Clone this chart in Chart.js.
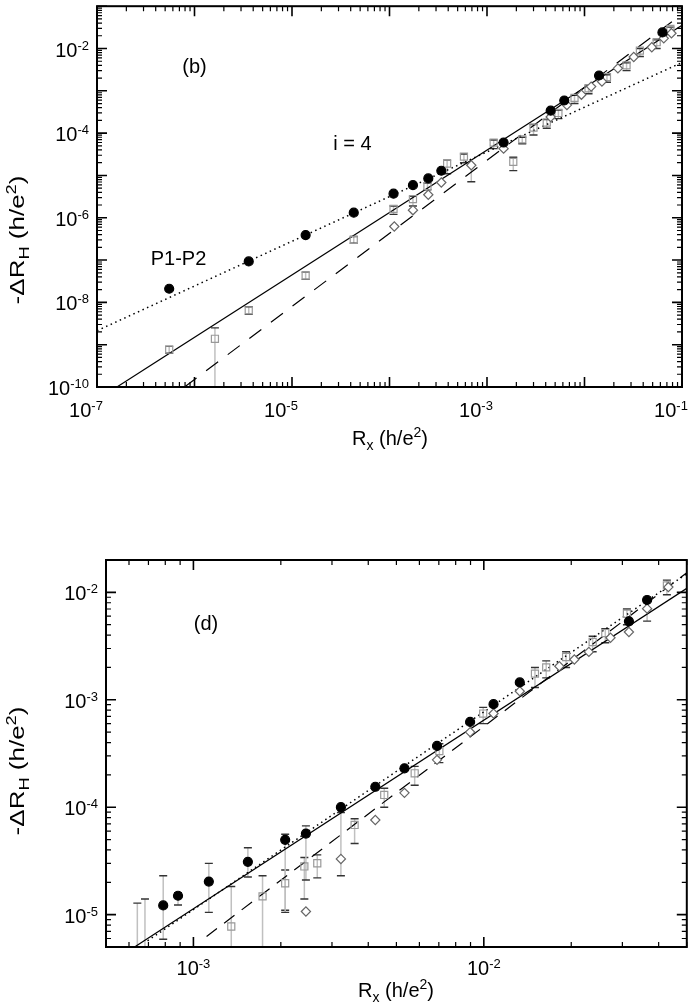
<!DOCTYPE html>
<html>
<head>
<meta charset="utf-8">
<title>-dRH vs Rx</title>
<script src="https://cdn.jsdelivr.net/npm/chart.js@4.4.1/dist/chart.umd.min.js"></script>
<style>
  html, body { margin: 0; padding: 0; background: #fff; }
  .panel { position: absolute; left: 0; width: 693px; }
  #panelB { top: 0; height: 460px; }
  #panelD { top: 460px; height: 547px; }
</style>
</head>
<body>
<div class="panel" id="panelB"><canvas id="chartB"></canvas></div>
<div class="panel" id="panelD"><canvas id="chartD"></canvas></div>
<script>
// ---------- panel (b) data ----------
const bCircX = [5.5e-7, 3.6e-6, 1.38e-5, 4.3e-5, 1.10e-4, 1.74e-4, 2.5e-4, 3.4e-4, 1.48e-3, 4.5e-3, 6.2e-3, 1.41e-2, 6.3e-2];
const bCircY = [2.1e-8, 9.3e-8, 3.9e-7, 1.32e-6, 3.7e-6, 5.9e-6, 8.5e-6, 1.29e-5, 6.0e-5, 3.4e-4, 5.9e-4, 2.3e-3, 2.4e-2];

const bDiamX = [1.12e-4, 1.74e-4, 2.5e-4, 3.4e-4, 6.9e-4, 1.48e-3, 4.5e-3, 6.6e-3, 9.3e-3, 1.17e-2, 1.51e-2, 2.2e-2, 3.2e-2, 4.9e-2, 6.5e-2, 7.8e-2];
const bDiamY = [6.2e-7, 1.51e-6, 3.5e-6, 6.8e-6, 1.74e-5, 4.3e-5, 2.4e-4, 4.6e-4, 8.1e-4, 1.26e-3, 1.66e-3, 3.4e-3, 6.3e-3, 1.07e-2, 1.74e-2, 2.3e-2];
const bDiamLo = [null, null, null, null, 7.1e-6, null, null, null, null, null, null, null, null, null, null, null];
const bDiamHi = [null, null, null, null, 1.74e-5, null, null, null, null, null, null, null, null, null, null, null];

const bSqX = [5.5e-7, 1.62e-6, 3.6e-6, 1.38e-5, 4.3e-5, 1.10e-4, 1.74e-4, 2.45e-4, 3.9e-4, 5.8e-4, 1.17e-3, 1.86e-3, 2.3e-3, 3.0e-3, 4.1e-3, 5.4e-3, 7.9e-3, 1.10e-2, 1.70e-2, 2.7e-2, 3.7e-2, 5.5e-2, 7.6e-2];
const bSqY = [7.6e-10, 1.38e-9, 6.5e-9, 4.3e-8, 3.0e-7, 1.62e-6, 2.75e-6, 5.6e-6, 1.9e-5, 2.8e-5, 6.0e-5, 2.1e-5, 7.1e-5, 1.35e-4, 1.78e-4, 3.0e-4, 6.8e-4, 1.15e-3, 2.1e-3, 4.0e-3, 8.9e-3, 1.41e-2, 2.9e-2];
const bSqLo = [6.3e-10, 1e-11, 5.2e-9, 3.5e-8, 2.5e-7, 1.2e-6, 1.9e-6, 4.6e-6, 1.1e-5, 2.0e-5, 4.3e-5, 1.3e-5, 5.6e-5, 9e-5, 1.3e-4, 2.2e-4, 5.0e-4, 8.5e-4, 1.6e-3, 3.0e-3, 6.5e-3, 1.0e-2, 2.2e-2];
const bSqHi = [9.1e-10, 2.5e-9, 7.9e-9, 5.2e-8, 3.6e-7, 1.9e-6, 3.2e-6, 6.6e-6, 2.3e-5, 3.2e-5, 6.9e-5, 2.7e-5, 8.0e-5, 1.6e-4, 2.1e-4, 3.5e-4, 7.8e-4, 1.3e-3, 2.4e-3, 4.6e-3, 1.0e-2, 1.6e-2, 3.2e-2];

// fitted lines (end points)
const bDotX = [1e-7, 1e-1],     bDotY = [2.14e-9, 4.68e-3];
const bSolidX = [1.60e-7, 1e-1], bSolidY = [1e-10, 3.55e-2];
const bDashX = [7.9e-7, 1e-1],  bDashY = [1e-10, 6.46e-2];

const bXLabels = [-7, -5, -3, -1];
const bYLabels = [-10, -8, -6, -4, -2];

// ---------- panel (d) data ----------
const dCircX = [7.87e-4, 8.85e-4, 1.13e-3, 1.54e-3, 2.07e-3, 2.44e-3, 3.22e-3, 4.23e-3, 5.33e-3, 6.90e-3, 8.97e-3, 1.08e-2, 1.33e-2, 3.16e-2, 3.65e-2];
const dCircY = [1.22e-5, 1.50e-5, 2.03e-5, 3.10e-5, 4.97e-5, 5.68e-5, 1.00e-4, 1.55e-4, 2.30e-4, 3.72e-4, 6.22e-4, 9.10e-4, 1.45e-3, 5.37e-3, 8.49e-3];
const dCircLo = [5.9e-6, 1.23e-5, 1.05e-5, 2.24e-5, 1.05e-5, 2.1e-5, null, null, null, null, null, null, null, null, null];
const dCircHi = [2.3e-5, 1.6e-5, 3.0e-5, 4.2e-5, 5.6e-5, 6.7e-5, null, null, null, null, null, null, null, null, null];

const dDiamX = [2.44e-3, 3.22e-3, 4.23e-3, 5.33e-3, 6.90e-3, 8.97e-3, 1.08e-2, 1.33e-2, 1.82e-2, 2.05e-2, 2.30e-2, 2.73e-2, 3.16e-2, 3.65e-2, 4.32e-2];
const dDiamY = [1.07e-5, 3.30e-5, 7.60e-5, 1.36e-4, 2.76e-4, 5.00e-4, 7.45e-4, 1.20e-3, 2.05e-3, 2.37e-3, 2.79e-3, 3.78e-3, 4.27e-3, 7.05e-3, 1.12e-2];
const dDiamLo = [null, 2.3e-5, null, null, null, null, null, null, null, null, null, null, null, 5.4e-3, null];
const dDiamHi = [null, 8.9e-5, null, null, null, null, null, null, null, null, null, null, null, 8.5e-3, null];

const dSqX = [6.41e-4, 6.81e-4, 1.35e-3, 1.73e-3, 2.07e-3, 2.41e-3, 2.67e-3, 3.59e-3, 4.54e-3, 5.78e-3, 7.03e-3, 9.95e-3, 1.50e-2, 1.64e-2, 1.92e-2, 2.37e-2, 2.62e-2, 3.11e-2, 4.27e-2];
const dSqY = [3e-6, 3e-6, 7.76e-6, 1.48e-5, 1.96e-5, 2.81e-5, 3.01e-5, 6.84e-5, 1.30e-4, 2.07e-4, 3.33e-4, 7.45e-4, 1.75e-3, 2.00e-3, 2.50e-3, 3.45e-3, 4.18e-3, 6.32e-3, 1.16e-2];
const dSqLo = [2e-6, 2e-6, 4e-6, 4e-6, 1.1e-5, 1.4e-5, 2.2e-5, 4.6e-5, 1.0e-4, 1.6e-4, 2.6e-4, 6.0e-4, 1.3e-3, 1.6e-3, 2.0e-3, 2.8e-3, 3.4e-3, 5.0e-3, 9.5e-3];
const dSqHi = [1.28e-5, 1.40e-5, 1.83e-5, 2.3e-5, 2.6e-5, 3.4e-5, 3.6e-5, 7.8e-5, 1.5e-4, 2.4e-4, 3.9e-4, 8.5e-4, 2.0e-3, 2.3e-3, 2.8e-3, 3.9e-3, 4.6e-3, 7.0e-3, 1.3e-2];

const dDotX = [6.95e-4, 5e-2],   dDotY = [5.71e-6, 1.49e-2];
const dSolidX = [6.27e-4, 5e-2], dSolidY = [5.0e-6, 1.09e-2];
const dDashX = [1.11e-3, 5e-2],  dDashY = [6.27e-6, 1.52e-2];

const dXLabels = [-3, -2];
const dYLabels = [-5, -4, -3, -2];

// ---------- helpers ----------
const FONT = '"Liberation Sans", Arial, Helvetica, sans-serif';

function pts(xs, ys) {
    return xs.map((x, i) => ({ x: x, y: ys[i] }));
}

function markerSet(xs, ys, style, radius, fill, stroke, order) {
    return {
        data: pts(xs, ys),
        pointStyle: style,
        pointRadius: radius,
        pointBackgroundColor: fill,
        pointBorderColor: stroke,
        pointBorderWidth: 1.2,
        showLine: false,
        order: order
    };
}

function lineSet(xs, ys, dash, width, order) {
    return {
        data: pts(xs, ys),
        showLine: true,
        borderColor: '#000',
        borderWidth: width,
        borderDash: dash,
        pointRadius: 0,
        fill: false,
        order: order
    };
}

// text made of runs with sub/superscripts
function drawRuns(ctx, runs, x, y, align) {
    let w = 0;
    runs.forEach(r => { ctx.font = r.s + 'px ' + FONT; r.w = ctx.measureText(r.t).width; w += r.w; });
    let cx = align === 'center' ? x - w / 2 : (align === 'right' ? x - w : x);
    ctx.textAlign = 'left';
    ctx.textBaseline = 'alphabetic';
    runs.forEach(r => {
        ctx.font = r.s + 'px ' + FONT;
        ctx.fillText(r.t, cx, y + (r.dy || 0));
        cx += r.w;
    });
}

function powRuns(e) {
    return [{ t: '10', s: 20 }, { t: String(e), s: 13, dy: -7 }];
}

function drawTicks(ctx, sc, area, isX) {
    const d0 = Math.floor(Math.log10(sc.min) + 1e-9);
    const d1 = Math.ceil(Math.log10(sc.max) - 1e-9);
    ctx.strokeStyle = '#000';
    for (let d = d0; d <= d1; d++) {
        for (let m = 1; m <= 9; m++) {
            const v = m * Math.pow(10, d);
            if (v < sc.min * 0.9999 || v > sc.max * 1.0001) continue;
            const p = sc.getPixelForValue(v);
            const len = m === 1 ? 10 : 5;
            ctx.lineWidth = m === 1 ? 1.6 : 1.2;
            ctx.beginPath();
            if (isX) {
                ctx.moveTo(p, area.bottom); ctx.lineTo(p, area.bottom - len);
                ctx.moveTo(p, area.top); ctx.lineTo(p, area.top + len);
            } else {
                ctx.moveTo(area.left, p); ctx.lineTo(area.left + len, p);
                ctx.moveTo(area.right, p); ctx.lineTo(area.right - len, p);
            }
            ctx.stroke();
        }
    }
}

function makeDecor(cfg) {
    return {
        id: 'decor',
        beforeDatasetsDraw(chart) {
            const ctx = chart.ctx, xs = chart.scales.x, ys = chart.scales.y, a = chart.chartArea;
            ctx.save();
            ctx.beginPath();
            ctx.rect(a.left, a.top, a.right - a.left, a.bottom - a.top);
            ctx.clip();
            cfg.errors.forEach(e => {
                e.x.forEach((xv, i) => {
                    if (e.lo[i] == null) return;
                    const px = xs.getPixelForValue(xv);
                    const pLo = ys.getPixelForValue(e.lo[i]);
                    const pHi = ys.getPixelForValue(e.hi[i]);
                    ctx.strokeStyle = '#c0c0c0';
                    ctx.lineWidth = 1.5;
                    ctx.beginPath(); ctx.moveTo(px, pLo); ctx.lineTo(px, pHi); ctx.stroke();
                    ctx.strokeStyle = '#333';
                    ctx.lineWidth = 1.4;
                    ctx.beginPath();
                    ctx.moveTo(px - 4, pHi); ctx.lineTo(px + 4, pHi);
                    ctx.moveTo(px - 4, pLo); ctx.lineTo(px + 4, pLo);
                    ctx.stroke();
                });
            });
            ctx.restore();
        },
        afterDraw(chart) {
            const ctx = chart.ctx, xs = chart.scales.x, ys = chart.scales.y, a = chart.chartArea;
            ctx.save();
            // frame + inward ticks
            ctx.strokeStyle = '#000';
            ctx.lineWidth = 2;
            ctx.strokeRect(a.left, a.top, a.right - a.left, a.bottom - a.top);
            drawTicks(ctx, xs, a, true);
            drawTicks(ctx, ys, a, false);

            ctx.fillStyle = '#000';
            cfg.xLabels.forEach(e => {
                drawRuns(ctx, powRuns(e), xs.getPixelForValue(Math.pow(10, e)) + cfg.xShift, cfg.xBase, 'center');
            });
            cfg.yLabels.forEach(e => {
                drawRuns(ctx, powRuns(e), cfg.yRight, ys.getPixelForValue(Math.pow(10, e)) + 8, 'right');
            });

            // axis titles
            drawRuns(ctx, [
                { t: 'R', s: 20 }, { t: 'x', s: 14, dy: 5 }, { t: ' (h/e', s: 20 },
                { t: '2', s: 14, dy: -8 }, { t: ')', s: 20 }
            ], cfg.xTitle[0], cfg.xTitle[1], 'center');

            ctx.save();
            ctx.translate(cfg.yTitle[0], cfg.yTitle[1]);
            ctx.rotate(-Math.PI / 2);
            ctx.scale(1.3, 1);
            drawRuns(ctx, [
                { t: '-\u0394R', s: 20 }, { t: 'H', s: 14, dy: 5 }, { t: ' (h/e', s: 20 },
                { t: '2', s: 14, dy: -8 }, { t: ')', s: 20 }
            ], 0, 7, 'center');
            ctx.restore();

            // notes inside the panel
            cfg.notes.forEach(n => drawRuns(ctx, [{ t: n[0], s: 20 }], n[1], n[2], 'center'));
            ctx.restore();
        }
    };
}

function makeOptions(xMin, xMax, yMin, yMax, pad) {
    return {
        responsive: true,
        maintainAspectRatio: false,
        animation: false,
        events: [],
        layout: { padding: pad },
        scales: {
            x: { type: 'logarithmic', min: xMin, max: xMax, display: false },
            y: { type: 'logarithmic', min: yMin, max: yMax, display: false }
        },
        plugins: {
            legend: { display: false },
            tooltip: { enabled: false }
        }
    };
}

// ---------- panel (b) ----------
new Chart(document.getElementById('chartB'), {
    type: 'scatter',
    data: {
        datasets: [
            markerSet(bCircX, bCircY, 'circle', 4.5, '#000', '#000', 1),
            markerSet(bDiamX, bDiamY, 'rectRot', 4.6, '#fff', '#666', 2),
            markerSet(bSqX, bSqY, 'rect', 5, 'rgba(0,0,0,0)', '#999', 3),
            lineSet(bDotX, bDotY, [1.5, 3.5], 1.5, 4),
            lineSet(bSolidX, bSolidY, [], 1.2, 5),
            lineSet(bDashX, bDashY, [15, 12], 1.2, 6)
        ]
    },
    options: makeOptions(1e-7, 1e-1, 1e-10, 1e-1, { left: 97, top: 2, right: 11, bottom: 73 }),
    plugins: [makeDecor({
        errors: [
            { x: bSqX, lo: bSqLo, hi: bSqHi },
            { x: bDiamX, lo: bDiamLo, hi: bDiamHi }
        ],
        xLabels: bXLabels, xShift: -11, xBase: 417,
        yLabels: bYLabels, yRight: 89,
        xTitle: [390, 445],
        yTitle: [17, 240],
        notes: [['(b)', 194.5, 72.5], ['i = 4', 352.5, 150], ['P1-P2', 178.5, 265]]
    })]
});

// ---------- panel (d) ----------
new Chart(document.getElementById('chartD'), {
    type: 'scatter',
    data: {
        datasets: [
            markerSet(dCircX, dCircY, 'circle', 4.5, '#000', '#000', 1),
            markerSet(dDiamX, dDiamY, 'rectRot', 4.6, '#fff', '#666', 2),
            markerSet(dSqX, dSqY, 'rect', 5, 'rgba(0,0,0,0)', '#999', 3),
            lineSet(dDotX, dDotY, [1.5, 3.5], 1.5, 4),
            lineSet(dSolidX, dSolidY, [], 1.2, 5),
            lineSet(dDashX, dDashY, [13, 9], 1.2, 6)
        ]
    },
    options: makeOptions(5e-4, 5e-2, 5e-6, 2e-2, { left: 106, top: 100, right: 1, bottom: 60 }),
    plugins: [makeDecor({
        errors: [
            { x: dSqX, lo: dSqLo, hi: dSqHi },
            { x: dCircX, lo: dCircLo, hi: dCircHi },
            { x: dDiamX, lo: dDiamLo, hi: dDiamHi }
        ],
        xLabels: dXLabels, xShift: 0, xBase: 515,
        yLabels: dYLabels, yRight: 98,
        xTitle: [396, 537],
        yTitle: [17, 311],
        notes: [['(d)', 206, 170]]
    })]
});
</script>
</body>
</html>
